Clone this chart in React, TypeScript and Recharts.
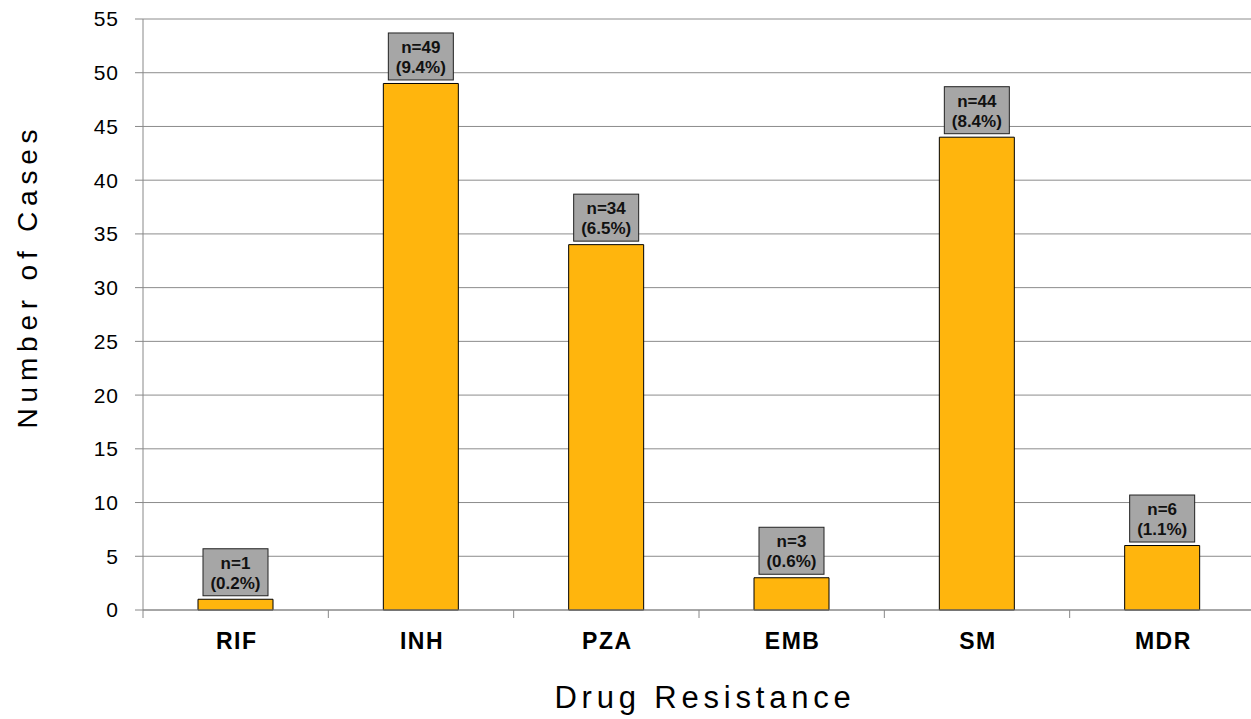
import React from "react";
import { BarChart, Bar, XAxis, YAxis, CartesianGrid, LabelList, Label } from "recharts";

const categories = ["RIF", "INH", "PZA", "EMB", "SM", "MDR"];
const cases = [1, 49, 34, 3, 44, 6];
const percents = ["0.2%", "9.4%", "6.5%", "0.6%", "8.4%", "1.1%"];
const yTicks = [0, 5, 10, 15, 20, 25, 30, 35, 40, 45, 50, 55];

const data = categories.map((c, i) => ({ name: c, value: cases[i], pct: percents[i] }));

const FONT = "'Liberation Sans', Arial, sans-serif";
const CHART_W = 1262;
const CHART_H = 719;
const LEFT = 143;
const RIGHT_M = 7;
const BAND = (CHART_W - LEFT - RIGHT_M) / categories.length;

const XTick = (props: any) => {
  const { x, y, payload, index } = props;
  const isLast = index === categories.length - 1;
  return (
    <g>
      <line x1={x - BAND / 2} x2={x - BAND / 2} y1={y - 8} y2={y} stroke="#888" />
      {isLast && <line x1={x + BAND / 2} x2={x + BAND / 2} y1={y - 8} y2={y} stroke="#888" />}
      <text x={x + 1} y={y + 15} dy="0.71em" textAnchor="middle" fontFamily={FONT} fontSize={23} fontWeight="bold" letterSpacing={1.5} fill="#000">
        {payload.value}
      </text>
    </g>
  );
};

const YTick = (props: any) => {
  const { x, y, payload } = props;
  return (
    <text x={x + 1} y={y} dy="0.355em" textAnchor="end" fontFamily={FONT} fontSize={21} letterSpacing={1} fill="#000">
      {payload.value}
    </text>
  );
};

const BoxLabel = (props: any) => {
  const { x, y, width, index } = props;
  const cx = x + width / 2;
  const bw = 65;
  const bh = 47;
  const bottom = y - 3.5;
  return (
    <g>
      <rect x={cx - bw / 2} y={bottom - bh} width={bw} height={bh} fill="#A6A6A6" stroke="#222" strokeWidth={1} />
      <text x={cx} y={bottom - bh + 20} textAnchor="middle" fontFamily={FONT} fontSize={17} fontWeight="bold" fill="#111">
        {`n=${cases[index]}`}
      </text>
      <text x={cx} y={bottom - bh + 40} textAnchor="middle" fontFamily={FONT} fontSize={17} fontWeight="bold" fill="#111">
        {`(${percents[index]})`}
      </text>
    </g>
  );
};

export default function App() {
  return (
    <div style={{ position: "fixed", left: 0, top: 0, width: 1251, height: 719, overflow: "hidden", background: "#fff" }}>
      <BarChart width={CHART_W} height={CHART_H} data={data} margin={{ top: 19, right: RIGHT_M, bottom: 0, left: 0 }}>
        <CartesianGrid vertical={false} stroke="#8c8c8c" />
        <XAxis
          dataKey="name"
          height={109}
          axisLine={{ stroke: "#888" }}
          tickLine={false}
          tick={<XTick />}
          interval={0}
        >
          <Label
            content={(p: any) => {
              const vb = p.viewBox;
              return (
                <text x={vb.x + vb.width / 2 + 6} y={708} textAnchor="middle" fontFamily={FONT} fontSize={31} letterSpacing={4.8} fill="#000">
                  Drug Resistance
                </text>
              );
            }}
          />
        </XAxis>
        <YAxis
          width={LEFT}
          domain={[0, 55]}
          ticks={yTicks}
          interval={0}
          axisLine={{ stroke: "#888" }}
          tickLine={{ stroke: "#888" }}
          tickSize={8}
          tickMargin={17}
          tick={<YTick />}
        >
          <Label
            content={() => (
              <text x={0} y={0} transform={`translate(37, 276) rotate(-90)`} textAnchor="middle" fontFamily={FONT} fontSize={28} letterSpacing={5.8} fill="#000">
                Number of Cases
              </text>
            )}
          />
        </YAxis>
        <Bar dataKey="value" barSize={75} fill="#FFB50D" stroke="#000" strokeWidth={1} isAnimationActive={false}>
          <LabelList dataKey="value" content={<BoxLabel />} />
        </Bar>
      </BarChart>
    </div>
  );
}
